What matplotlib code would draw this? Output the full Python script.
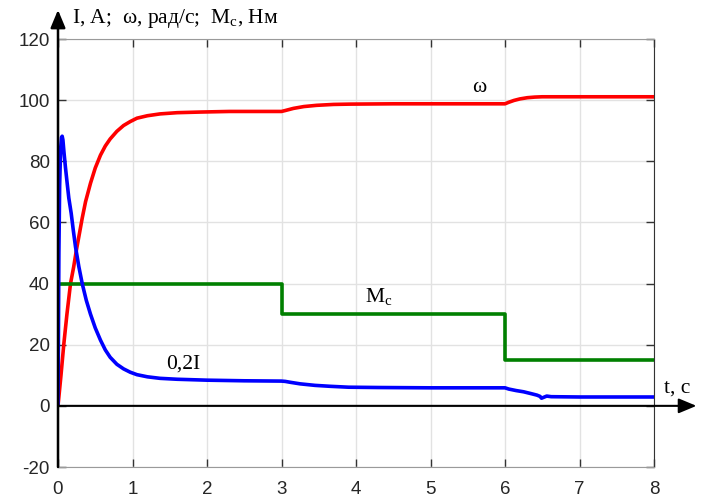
import matplotlib
matplotlib.use('Agg')
import matplotlib.pyplot as plt

plt.rcParams['axes.unicode_minus'] = False

# --- data ---
t_w = [0, 0.04, 0.078, 0.12, 0.168, 0.21, 0.248, 0.29, 0.325, 0.37, 0.436, 0.5,
       0.57, 0.635, 0.70, 0.79, 0.88, 0.97, 1.06, 1.2, 1.37, 1.6, 1.9, 2.3, 3.0,
       3.05, 3.16, 3.3, 3.47, 3.7, 3.92, 4.5, 5.0, 6.0,
       6.05, 6.12, 6.2, 6.3, 6.4, 6.5, 7.0, 8.0]
omega = [0, 10, 20.2, 30, 40, 45.4, 51.1, 56.7, 61.4, 66.8, 72.8, 77.8,
         82, 85, 87.3, 89.8, 91.7, 93, 94.1, 94.9, 95.5, 95.9, 96.1, 96.3, 96.3,
         96.6, 97.3, 97.9, 98.3, 98.6, 98.7, 98.8, 98.8, 98.8,
         99.3, 99.9, 100.4, 100.8, 101.0, 101.1, 101.1, 101.1]

t_i = [0, 0.005, 0.012, 0.022, 0.035, 0.047, 0.056, 0.066, 0.08, 0.1, 0.12,
       0.145, 0.177, 0.205, 0.235, 0.28, 0.325, 0.38, 0.436, 0.5, 0.57, 0.635,
       0.70, 0.79, 0.88, 0.97, 1.06, 1.2, 1.37, 1.6, 2.0, 2.5, 3.0,
       3.05, 3.12, 3.25, 3.45, 3.65, 3.9, 4.3, 5.0, 6.0,
       6.05, 6.15, 6.25, 6.35, 6.43, 6.47, 6.49, 6.52, 6.56, 6.62, 7.0, 8.0]
i02 = [0, 20, 50, 72, 84, 87.8, 88.2, 87, 83, 78, 73.5,
       68, 63, 57.5, 52, 45.5, 40, 34.5, 30, 25.5, 21.5, 18.3,
       15.9, 13.6, 12.1, 11.0, 10.2, 9.5, 9.0, 8.7, 8.4, 8.2, 8.1,
       8.0, 7.7, 7.2, 6.7, 6.4, 6.1, 6.0, 5.9, 5.9,
       5.5, 5.0, 4.6, 4.0, 3.5, 3.1, 2.5, 2.8, 3.2, 3.0, 2.9, 2.9]

t_m = [0, 3, 3, 6, 6, 8]
m_c = [40, 40, 30, 30, 15, 15]

x_ticks = [0, 1, 2, 3, 4, 5, 6, 7, 8]
y_ticks = [-20, 0, 20, 40, 60, 80, 100, 120]

fig = plt.figure(figsize=(7.08, 5.01), dpi=100, facecolor='white')
ax = fig.add_axes([58/708, 1 - 467/501, (654-58)/708, (467-39)/501])

style = dict(lw=2.6, solid_joinstyle='round', solid_capstyle='butt')
ax.plot(t_w, omega, color='#ff0000', zorder=3, **style)
ax.plot(t_m, m_c, color='#008000', zorder=3, **style)
ax.plot(t_i, i02, color='#0000ff', zorder=4, **style)

ax.set_xlim(0, 8)
ax.set_ylim(-20, 120)
ax.set_xticks(x_ticks)
ax.set_yticks(y_ticks)
ax.grid(True, color='#e2e2e2', lw=1)
ax.set_axisbelow(True)
ax.tick_params(direction='in', length=6, width=1, top=True, right=True,
               labelsize=13.5, colors='#333333', labelcolor='#262626')
ax.tick_params(axis='x', pad=10)
ax.tick_params(axis='y', pad=6)
for lab in ax.get_xticklabels() + ax.get_yticklabels():
    lab.set_family('Liberation Sans')

ax.spines['top'].set_color('#9a9a9a')
ax.spines['bottom'].set_color('#9a9a9a')
ax.spines['right'].set_color('#333333')
ax.spines['left'].set_visible(False)

# zero line with arrow (time axis)
ax.annotate('', xy=(8.57, 0), xytext=(0, 0), xycoords='data',
            arrowprops=dict(arrowstyle='-|>,head_length=0.6,head_width=0.25',
                            color='black', lw=1.5, mutation_scale=18,
                            shrinkA=0, shrinkB=0),
            annotation_clip=False, zorder=5)
# vertical axis with arrow
ax.annotate('', xy=(0, 1.068), xytext=(0, 0), xycoords='axes fraction',
            arrowprops=dict(arrowstyle='-|>,head_length=0.6,head_width=0.25',
                            color='black', lw=1.8, mutation_scale=18,
                            shrinkA=0, shrinkB=0),
            annotation_clip=False, zorder=5)

serif = 'Liberation Serif'
fig.text(72/708, 1 - 18/501, 'I, A;  ω, рад/с;  M$_\\mathregular{c}$, Hм',
         family=serif, fontsize=15.5, va='center', ha='left')
fig.text(664/708, 1 - 388/501, 't, c', family=serif, fontsize=15.5,
         va='center', ha='left')
ax.text(5.66, 104, 'ω', family=serif, fontsize=15.5, ha='center', va='center')
ax.text(4.3, 35.5, 'M$_\\mathregular{c}$', family=serif, fontsize=15.5,
        ha='center', va='center')
ax.text(1.68, 13.7, '0,2I', family=serif, fontsize=15.5, ha='center', va='center')

fig.savefig('out.png', dpi=100, facecolor='white')
